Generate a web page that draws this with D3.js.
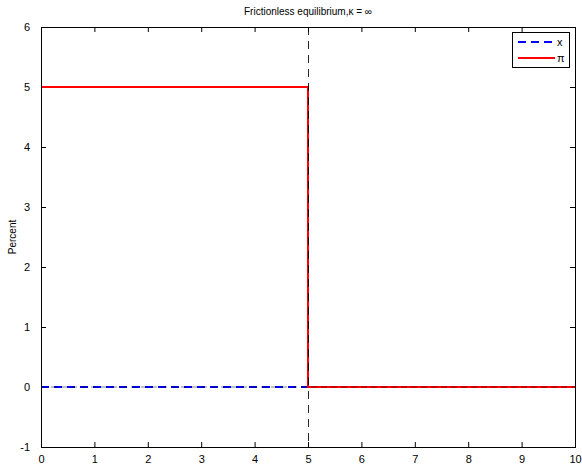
<!DOCTYPE html>
<html><head><meta charset="utf-8">
<script src="https://cdn.jsdelivr.net/npm/d3@7"></script>
<style>body{margin:0;background:#fff}svg{display:block}text{font-family:"Liberation Sans",Arial,sans-serif}</style>
</head><body>
<script>
const xTicks = [0,1,2,3,4,5,6,7,8,9,10];
const yTicks = [-1,0,1,2,3,4,5,6];
const tX = [0, 5, 5, 10];
const xSeries = [0, 0, 0, 0];
const piSeries = [5, 5, 0, 0];
const shockTime = [5];
const title = "Frictionless equilibrium,\u03ba = \u221e";
const yLabel = "Percent";
const legendLabels = ["x", "\u03c0"];

(function(){
const W = 582, H = 465;
const m = {l:41, r:7, t:27, b:18};
const svg = d3.select("body").append("svg").attr("width", W).attr("height", H);
const x = d3.scaleLinear().domain([0,10]).range([m.l, W-m.r]);
const y = d3.scaleLinear().domain([-1,6]).range([H-m.b, m.t]);

const g = svg.append("g");
const fs = 11;
const fmt = d => String(d);
const axB = g.append("g").attr("transform",`translate(0,${H-m.b})`)
  .call(d3.axisBottom(x).tickValues(xTicks).tickSize(-5).tickPadding(8).tickFormat(fmt));
const axT = g.append("g").attr("transform",`translate(0,${m.t})`)
  .call(d3.axisTop(x).tickValues(xTicks).tickSize(-5).tickFormat(""));
const axL = g.append("g").attr("transform",`translate(${m.l},0)`)
  .call(d3.axisLeft(y).tickValues(yTicks).tickSize(-5).tickPadding(11).tickFormat(fmt));
const axR = g.append("g").attr("transform",`translate(${W-m.r},0)`)
  .call(d3.axisRight(y).tickValues(yTicks).tickSize(-5).tickFormat(""));
[axB, axT, axL, axR].forEach(a=>{
  a.selectAll(".domain").remove();
  a.selectAll("line").attr("stroke","#000").attr("stroke-width",1);
  a.selectAll("text").attr("fill","#000").style("font-size",fs+"px").style("font-family",'"Liberation Sans",Arial,sans-serif');
});

const line = d3.line().x((d,i)=>x(tX[i])).y(d=>y(d));
g.append("path").datum(xSeries).attr("d",line).attr("fill","none")
  .attr("stroke","#0000ff").attr("stroke-width",2).attr("stroke-dasharray","8,5");
g.append("path").datum(piSeries).attr("d",line).attr("fill","none")
  .attr("stroke","#ff0000").attr("stroke-width",2);

g.append("line").attr("x1",x(0)).attr("x2",x(10)).attr("y1",y(0)).attr("y2",y(0))
  .attr("stroke","#000").attr("stroke-width",0.8).attr("stroke-dasharray","6,4").attr("opacity",0.6);
shockTime.forEach(s=>{
  g.append("line").attr("x1",x(s)+0.5).attr("x2",x(s)+0.5).attr("y1",y(6)).attr("y2",y(-1))
    .attr("stroke","#000").attr("stroke-width",1).attr("stroke-dasharray","8,6").attr("opacity",0.85);
});

g.append("rect").attr("x",m.l+0.5).attr("y",m.t+0.5).attr("width",W-m.r-m.l).attr("height",H-m.b-m.t)
  .attr("fill","none").attr("stroke","#000").attr("stroke-width",1);

svg.append("text").attr("x",(m.l+W-m.r)/2).attr("y",15).attr("text-anchor","middle")
  .style("font-size","10px").text(title);
svg.append("text").attr("transform",`translate(16,${(m.t+H-m.b)/2}) rotate(-90)`).attr("text-anchor","middle")
  .style("font-size","10px").text(yLabel);

const lg = svg.append("g");
lg.append("rect").attr("x",512.5).attr("y",32.5).attr("width",57).attr("height",35)
  .attr("fill","#fff").attr("stroke","#000").attr("stroke-width",1);
const styles = [{c:"#0000ff",d:"8,5"},{c:"#ff0000",d:null}];
legendLabels.forEach((lab,i)=>{
  const yy = 42 + i*16;
  const l = lg.append("line").attr("x1",518).attr("x2",555).attr("y1",yy).attr("y2",yy)
    .attr("stroke",styles[i].c).attr("stroke-width",2);
  if (styles[i].d) l.attr("stroke-dasharray",styles[i].d);
  lg.append("text").attr("x",557).attr("y",yy+4).style("font-size","11px").text(lab);
});
})();
</script>
</body></html>
